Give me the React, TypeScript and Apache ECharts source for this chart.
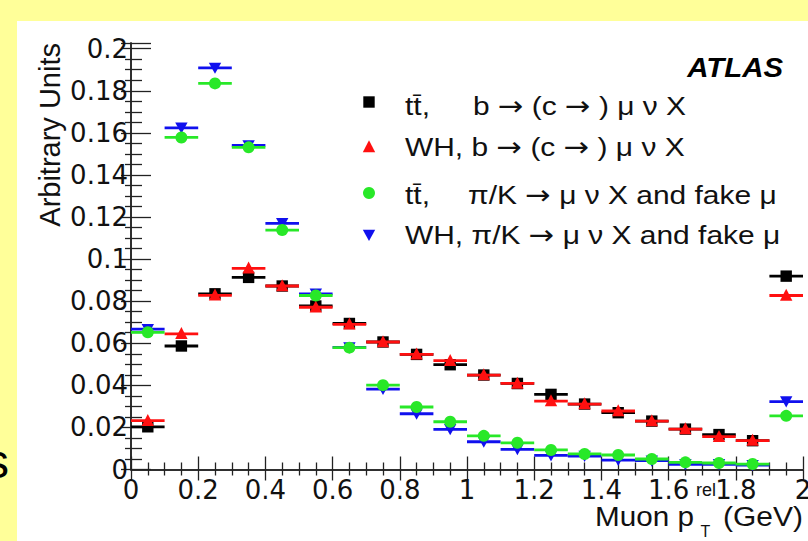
import React, { useEffect, useRef } from "react";
import * as echarts from "echarts";

// Bin edges and centres (Muon p_T^rel, GeV)
const binEdges = [0, 0.1, 0.2, 0.3, 0.4, 0.5, 0.6, 0.7, 0.8, 0.9, 1.0, 1.1, 1.2, 1.3, 1.4, 1.5, 1.6, 1.7, 1.8, 1.9, 2.0];
const binCenters = [0.05, 0.15, 0.25, 0.35, 0.45, 0.55, 0.65, 0.75, 0.85, 0.95, 1.05, 1.15, 1.25, 1.35, 1.45, 1.55, 1.65, 1.75, 1.85, 1.95];

// tt̄, b → (c →) μ ν X  (black squares)
const ttbarB = [0.0203, 0.0587, 0.0835, 0.0913, 0.0872, 0.0777, 0.0694, 0.0606, 0.0547, 0.0498, 0.0449, 0.0409, 0.0357, 0.0311, 0.0270, 0.0230, 0.0192, 0.0166, 0.0137, 0.0919];
// WH, b → (c →) μ ν X  (red triangles)
const whB = [0.0232, 0.0645, 0.0828, 0.0956, 0.0872, 0.0771, 0.0690, 0.0606, 0.0547, 0.0517, 0.0449, 0.0409, 0.0325, 0.0311, 0.0278, 0.0230, 0.0192, 0.0156, 0.0137, 0.0827];
// WH, π/K → μ ν X and fake μ  (blue down triangles)
const whPi = [0.0667, 0.1624, 0.1909, 0.1540, 0.1170, 0.0835, 0.0580, 0.0382, 0.0265, 0.0191, 0.0132, 0.0096, 0.0067, 0.0064, 0.0045, 0.0042, 0.0025, 0.0025, 0.0021, 0.0323];
// tt̄, π/K → μ ν X and fake μ  (green circles)
const ttbarPi = [0.0652, 0.1578, 0.1835, 0.1531, 0.1138, 0.0827, 0.0579, 0.0401, 0.0297, 0.0227, 0.0160, 0.0127, 0.0093, 0.0074, 0.0069, 0.0050, 0.0034, 0.0031, 0.0026, 0.0255];

const xTicks = ["0", "0.2", "0.4", "0.6", "0.8", "1", "1.2", "1.4", "1.6", "1.8", "2"];
const yTicks = ["0", "0.02", "0.04", "0.06", "0.08", "0.1", "0.12", "0.14", "0.16", "0.18", "0.2"];

const FONT = "Liberation Sans, Arial, Helvetica, sans-serif";
const TICKFONT = "DejaVu Sans, Liberation Sans, sans-serif";
const BLACK = "#000000";
const RED = "#FF1010";
const BLUE = "#1010EE";
const GREEN = "#28E828";

type MarkerKind = "square" | "triUp" | "triDown" | "circle";

function markerShape(kind: MarkerKind, cx: number, cy: number, color: string): any {
  const s = 5.7;
  if (kind === "square") {
    return { type: "rect", shape: { x: cx - s, y: cy - s, width: 2 * s, height: 2 * s }, style: { fill: color } };
  }
  if (kind === "circle") {
    return { type: "circle", shape: { cx, cy, r: 6 }, style: { fill: color } };
  }
  if (kind === "triUp") {
    return { type: "polygon", shape: { points: [[cx, cy - 6.8], [cx + 6.2, cy + 5.2], [cx - 6.2, cy + 5.2]] }, style: { fill: color } };
  }
  return { type: "polygon", shape: { points: [[cx, cy + 6], [cx + 6.2, cy - 5.2], [cx - 6.2, cy - 5.2]] }, style: { fill: color } };
}

function histSeries(name: string, values: number[], color: string, kind: MarkerKind): any {
  return {
    type: "custom",
    name,
    clip: false,
    data: binCenters.map((c, i) => [c, values[i], binEdges[i], binEdges[i + 1]]),
    encode: { x: 0, y: 1 },
    renderItem: (_params: any, api: any) => {
      const y = api.value(1);
      const p = api.coord([api.value(0), y]);
      const pl = api.coord([api.value(2), y]);
      const ph = api.coord([api.value(3), y]);
      return {
        type: "group",
        children: [
          { type: "line", shape: { x1: pl[0], y1: pl[1], x2: ph[0], y2: ph[1] }, style: { stroke: color, lineWidth: 2.8 } },
          markerShape(kind, p[0], p[1], color),
        ],
      };
    },
  };
}

const ARROW_RICH = {
  a: { fontFamily: "DejaVu Sans, sans-serif", fontSize: 27, fill: "#111" },
};

function legendText(text: string, x: number, y: number): any {
  return {
    type: "text",
    x,
    y,
    scaleX: 1.13,
    silent: true,
    style: {
      text,
      fontSize: 26.5,
      fontFamily: FONT,
      fill: "#111",
      align: "left",
      verticalAlign: "middle",
      rich: ARROW_RICH,
    },
  };
}

export default function App() {
  const ref = useRef<HTMLDivElement>(null);

  useEffect(() => {
    if (!ref.current) return;
    const chart = echarts.init(ref.current, undefined, { renderer: "svg" });

    const yFmt = (v: number) => {
      const k = v / 0.02;
      if (Math.abs(k - Math.round(k)) > 1e-6) return "";
      return yTicks[Math.round(k)] ?? "";
    };
    const xFmt = (v: number) => {
      const k = v / 0.2;
      if (Math.abs(k - Math.round(k)) > 1e-6) return "";
      return xTicks[Math.round(k)] ?? "";
    };

    const axisLine = { show: true, lineStyle: { color: "#222", width: 1.5 } };

    const option: any = {
      animation: false,
      backgroundColor: "#FFFFFF",
      grid: { left: 131, right: 5, top: 43, bottom: 71.5, containLabel: false, outerBoundsMode: "none" },
      xAxis: [
        {
          type: "value",
          min: 0,
          max: 2,
          interval: 0.2,
          position: "bottom",
          axisLine,
          axisTick: { show: true, inside: true, length: 13, lineStyle: { color: "#222", width: 1.3 } },
          minorTick: { show: true, splitNumber: 4, length: 7, lineStyle: { color: "#222", width: 1.3 } },
          splitLine: { show: false },
          axisLabel: { formatter: xFmt, fontSize: 26, fontFamily: TICKFONT, color: "#111", margin: 7 },
        },
        {
          type: "value",
          min: 0,
          max: 2,
          interval: 0.2,
          position: "top",
          axisLine,
          axisTick: { show: true, inside: true, length: 11, lineStyle: { color: "#222", width: 1.3 } },
          minorTick: { show: true, splitNumber: 4, length: 6, lineStyle: { color: "#222", width: 1.3 } },
          splitLine: { show: false },
          axisLabel: { show: false },
        },
      ],
      yAxis: [
        {
          type: "value",
          min: 0,
          max: 0.2027,
          interval: 0.02,
          position: "left",
          axisLine,
          axisTick: { show: true, inside: true, length: 20, lineStyle: { color: "#222", width: 1.3 } },
          minorTick: { show: true, splitNumber: 4, length: 11, lineStyle: { color: "#222", width: 1.3 } },
          splitLine: { show: false },
          axisLabel: { formatter: yFmt, fontSize: 26, fontFamily: TICKFONT, color: "#111", margin: 3, padding: [7, 0, 0, 0] },
        },
        {
          type: "value",
          min: 0,
          max: 0.2027,
          interval: 0.02,
          position: "right",
          axisLine,
          axisTick: { show: true, inside: true, length: 10, lineStyle: { color: "#222", width: 1.3 } },
          minorTick: { show: true, splitNumber: 4, length: 6, lineStyle: { color: "#222", width: 1.3 } },
          splitLine: { show: false },
          axisLabel: { show: false },
        },
      ],
      series: [
        histSeries("tt̄, b → (c →) μ ν X", ttbarB, BLACK, "square"),
        histSeries("WH, b → (c →) μ ν X", whB, RED, "triUp"),
        histSeries("WH, π/K → μ ν X and fake μ", whPi, BLUE, "triDown"),
        histSeries("tt̄, π/K → μ ν X and fake μ", ttbarPi, GREEN, "circle"),
      ],
      graphic: [
        { type: "rect", silent: true, shape: { x: 0, y: 0, width: 808, height: 21 }, style: { fill: "#FFFF99" } },
        { type: "rect", silent: true, shape: { x: 0, y: 0, width: 17, height: 541 }, style: { fill: "#FFFF99" } },
        {
          type: "text",
          x: 9,
          y: 461,
          silent: true,
          style: { text: "s", fontSize: 48, fontFamily: FONT, fill: "#000", align: "right", verticalAlign: "middle" },
        },
        {
          type: "text",
          x: 50,
          y: 43,
          rotation: Math.PI / 2,
          silent: true,
          style: { text: "Arbitrary Units", fontSize: 29, fontFamily: FONT, fill: "#111", align: "right", verticalAlign: "middle" },
        },
        {
          type: "text",
          x: 595,
          y: 516,
          scaleX: 1.06,
          silent: true,
          style: { text: "Muon p", fontSize: 28, fontFamily: FONT, fill: "#111", align: "left", verticalAlign: "middle" },
        },
        {
          type: "text",
          x: 696,
          y: 490,
          silent: true,
          style: { text: "rel", fontSize: 18, fontFamily: FONT, fill: "#111", align: "left", verticalAlign: "middle" },
        },
        {
          type: "text",
          x: 700.5,
          y: 531,
          silent: true,
          style: { text: "T", fontSize: 16, fontFamily: FONT, fill: "#111", align: "left", verticalAlign: "middle" },
        },
        {
          type: "text",
          x: 723,
          y: 516,
          scaleX: 1.07,
          silent: true,
          style: { text: "(GeV)", fontSize: 28, fontFamily: FONT, fill: "#111", align: "left", verticalAlign: "middle" },
        },
        {
          type: "text",
          x: 783,
          y: 67,
          scaleX: 1.05,
          silent: true,
          style: { text: "ATLAS", fontSize: 28, fontWeight: "bold", fontStyle: "italic", fontFamily: FONT, fill: "#000", align: "right", verticalAlign: "middle" },
        },
        // legend
        { ...markerShape("square", 369, 102, BLACK), silent: true },
        legendText("tt\u0304,", 405, 106),
        legendText("b {a|\u2192} (c {a|\u2192} ) \u03bc \u03bd X", 473, 106),
        { ...markerShape("triUp", 369, 147, RED), silent: true },
        legendText("WH, b {a|\u2192} (c {a|\u2192} ) \u03bc \u03bd X", 405, 146.5),
        { ...markerShape("circle", 369, 193, GREEN), silent: true },
        legendText("tt\u0304,", 405, 195),
        legendText("\u03c0/K {a|\u2192} \u03bc \u03bd X and fake \u03bc", 468, 195),
        { ...markerShape("triDown", 369, 235, BLUE), silent: true },
        legendText("WH, \u03c0/K {a|\u2192} \u03bc \u03bd X and fake \u03bc", 405, 235),
      ],
    };

    chart.setOption(option);
    return () => chart.dispose();
  }, []);

  return <div ref={ref} style={{ position: "fixed", left: 0, top: 0, width: 808, height: 541 }} />;
}
